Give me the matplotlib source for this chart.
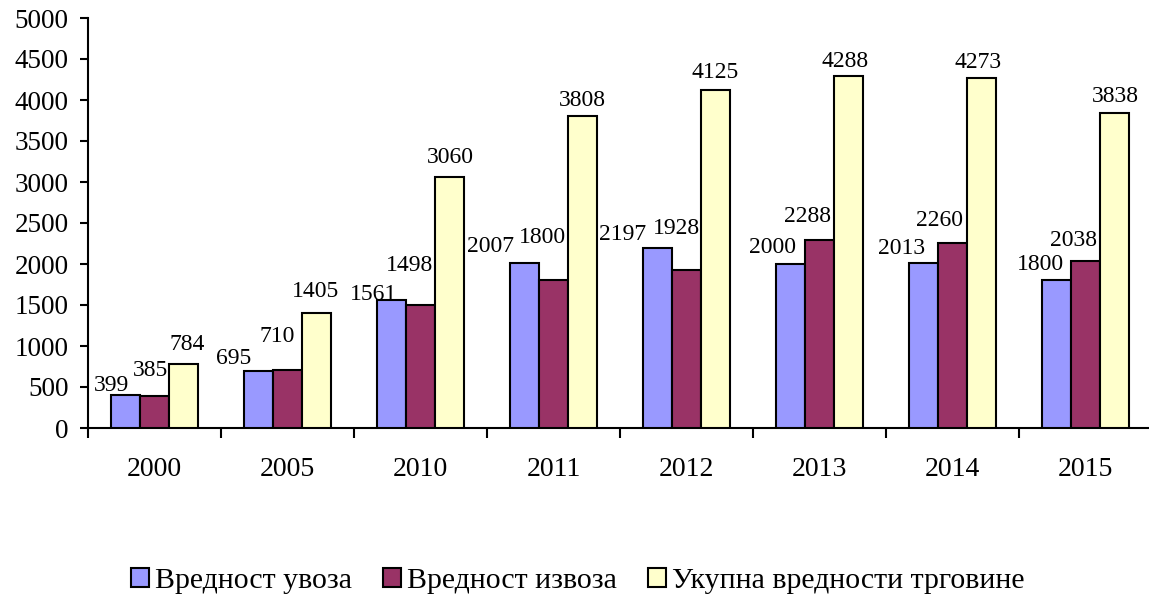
import numpy as np
import matplotlib
matplotlib.use('Agg')
import matplotlib.pyplot as plt

years = ['2000', '2005', '2010', '2011', '2012', '2013', '2014', '2015']
imports = [399, 695, 1561, 2007, 2197, 2000, 2013, 1800]
exports = [385, 710, 1498, 1800, 1928, 2288, 2260, 2038]
total = [784, 1405, 3060, 3808, 4125, 4288, 4273, 3838]
names = ['Вредност увоза', 'Вредност извоза', 'Укупна вредности трговине']
colors = ['#9999FF', '#993366', '#FFFFCC']

# label nudges in pixels (dx from bar centre, dy above bar top), as in the original
label_dx = [[-14, -25, -18, -34, -35, -18, -22, -16],
            [-4, -10, -11, -11, -10, -12, -13, -12],
            [4, -1, 1, 0, 0, -3, -3, 1]]
label_dy = [[4, 7, 0, 11, 8, 11, 9, 10],
            [20, 28, 34, 37, 36, 18, 17, 15],
            [14, 16, 14, 10, 12, 9, 10, 11]]

plt.rcParams['font.family'] = ['Liberation Serif', 'DejaVu Serif']

fig = plt.figure(figsize=(11.49, 5.97), dpi=100)
ax = fig.add_axes([88 / 1149, 1 - 428 / 597, 1064 / 1149, 410 / 597])

x = np.arange(len(years))
w = 0.218
bars = []
for i, (vals, col) in enumerate(zip([imports, exports, total], colors)):
    b = ax.bar(x + (i - 1) * w, vals, w, color=col, edgecolor='black',
               linewidth=1.5, label=names[i], zorder=3)
    bars.append(b)
    for j, (xi, v) in enumerate(zip(x + (i - 1) * w, vals)):
        ax.annotate(str(v), (xi, v), xytext=(label_dx[i][j], label_dy[i][j]),
                    textcoords='offset pixels', ha='center', va='baseline',
                    fontsize=17)

ax.set_xlim(-0.5, len(years) - 0.5)
ax.set_ylim(0, 5000)
ax.set_yticks(np.arange(0, 5001, 500))
ax.set_xticks(x)
ax.set_xticklabels(years)
ax.set_xticks(np.arange(-0.5, len(years)), minor=True)
ax.tick_params(axis='x', which='major', length=0, pad=21, labelsize=20)
ax.tick_params(axis='x', which='minor', length=7, width=1.5, direction='out')
ax.tick_params(axis='y', length=6, width=1.5, pad=8, labelsize=19.5)
for s in ['top', 'right']:
    ax.spines[s].set_visible(False)
for s in ['left', 'bottom']:
    ax.spines[s].set_linewidth(1.5)

fig.legend(handles=bars, labels=names, loc='center',
           bbox_to_anchor=(578 / 1149, 1 - 581 / 597), ncol=3, frameon=False,
           fontsize=21.5, handlelength=0.6, handleheight=0.6, handletextpad=0.2,
           columnspacing=1.05)

fig.savefig('out.png', dpi=100)
